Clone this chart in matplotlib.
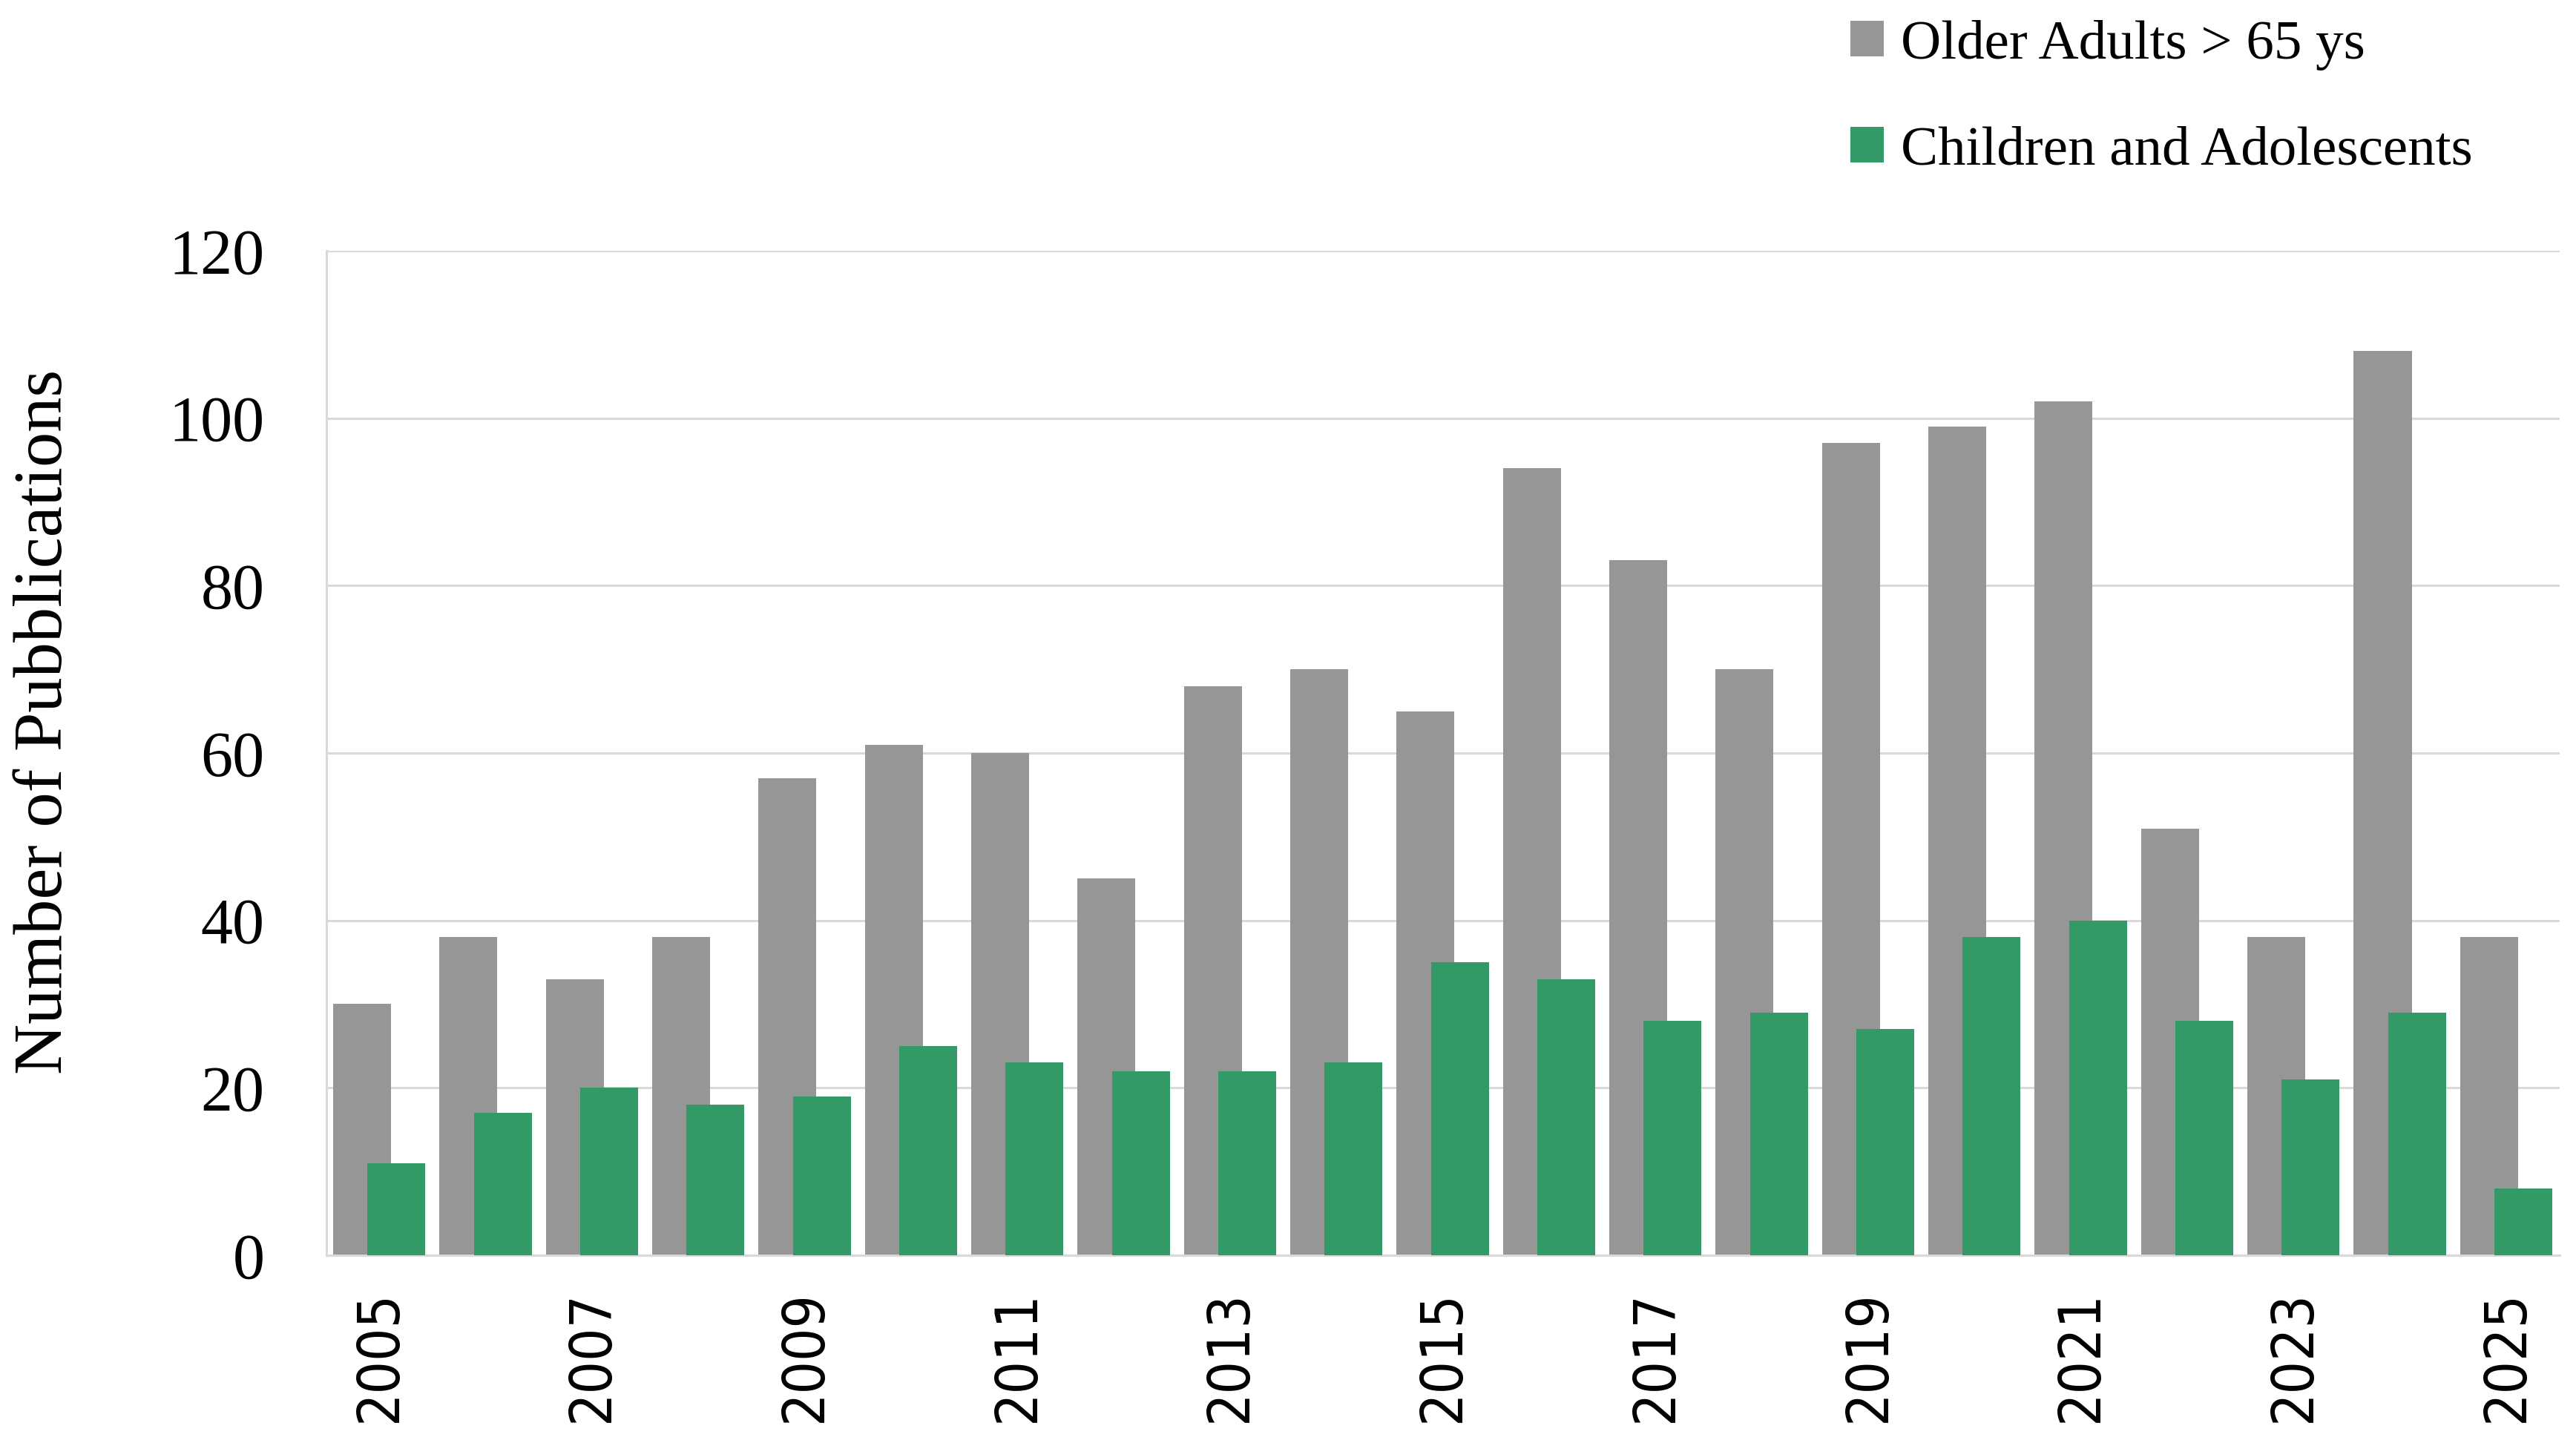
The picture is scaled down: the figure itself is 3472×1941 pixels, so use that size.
import numpy as np
import matplotlib.pyplot as plt

years = list(range(2005, 2026))
older_adults = [30, 38, 33, 38, 57, 61, 60, 45, 68, 70, 65, 94, 83, 70, 97, 99, 102, 51, 38, 108, 38]
children = [11, 17, 20, 18, 19, 25, 23, 22, 22, 23, 35, 33, 28, 29, 27, 38, 40, 28, 21, 29, 8]
labels = ["Older Adults > 65 ys", "Children and Adolescents"]
colors = ["#969696", "#339966"]

serif = ["Liberation Serif", "DejaVu Serif"]

fig = plt.figure(figsize=(17.36, 9.705), dpi=200)
ax = fig.add_axes([0.1267, 0.1283, 0.867, 0.6976])

x = np.arange(len(years))
w = 0.545
ax.bar(x - 0.165, older_adults, width=w, color=colors[0], label=labels[0], zorder=2)
ax.bar(x + 0.158, children, width=w, color=colors[1], label=labels[1], zorder=3)

ax.set_xlim(-0.5, len(years) - 0.5)
ax.set_ylim(0, 120)
ax.set_yticks(range(0, 121, 20))
ax.yaxis.grid(True, color="#d9d9d9", linewidth=1.1, zorder=0)
ax.set_axisbelow(True)

ax.set_xticks(x[::2])
ax.set_xticklabels([str(y) for y in years[::2]], rotation=90, family="DejaVu Sans",
                   fontstretch="condensed", fontsize=28)
for t in ax.get_yticklabels():
    t.set_family(serif)
    t.set_fontsize(31)
ax.tick_params(axis="both", length=0)
ax.tick_params(axis="y", pad=30)
ax.tick_params(axis="x", pad=17)

for s in ["top", "right"]:
    ax.spines[s].set_visible(False)
ax.spines["left"].set_color("#d9d9d9")
ax.spines["bottom"].set_color("#d9d9d9")
ax.spines["left"].set_linewidth(1.1)
ax.spines["bottom"].set_linewidth(1.1)

ax.set_ylabel("Number of Pubblications", family=serif, fontsize=34)
ax.yaxis.set_label_coords(-0.112, 0.531)

leg = fig.legend(loc="upper left", bbox_to_anchor=(0.699, 1.021), frameon=False,
                 prop={"family": serif, "size": 27}, handlelength=0.6, handleheight=0.6,
                 handletextpad=0.3, labelspacing=1.0)

fig.savefig("out.png", dpi=200)
